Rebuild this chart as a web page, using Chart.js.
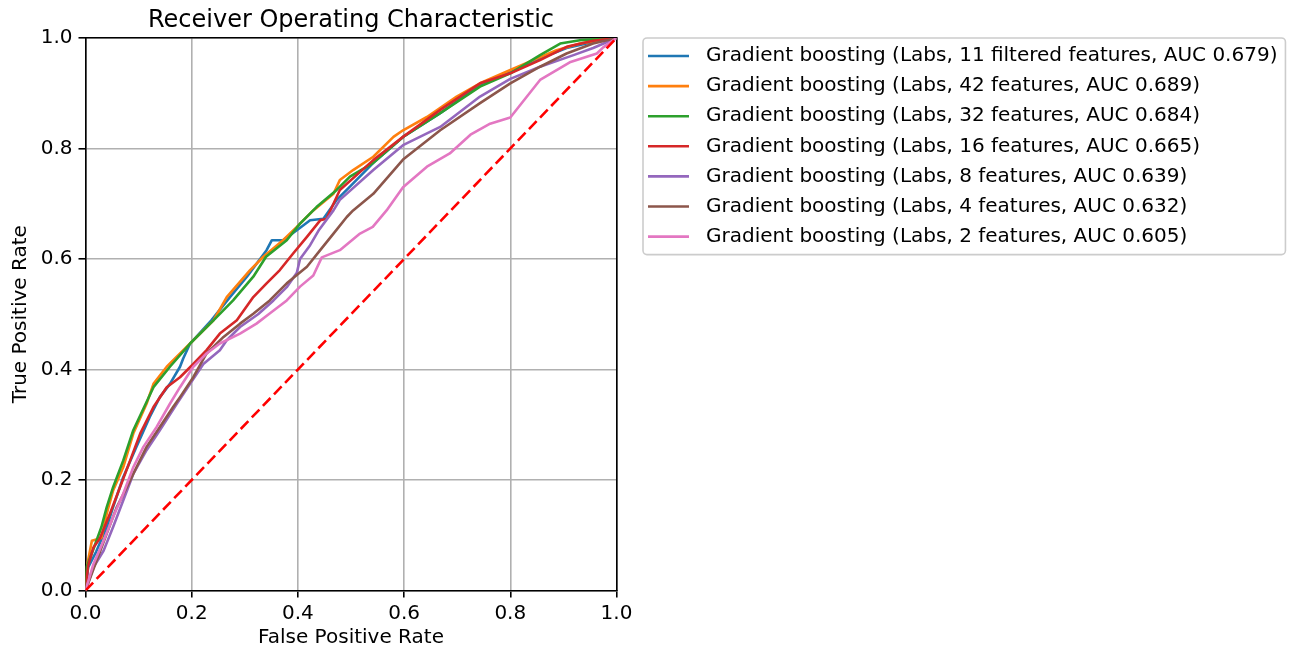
<!DOCTYPE html>
<html><head><meta charset="utf-8">
<script src="https://cdn.jsdelivr.net/npm/chart.js@4.4.0/dist/chart.umd.min.js"></script>
<style>html,body{margin:0;padding:0;background:#fff;}</style>
</head><body>
<canvas id="c" width="1294" height="653"></canvas>
<script>
const chartTitle = 'Receiver Operating Characteristic';
const xTitle = 'False Positive Rate';
const yTitle = 'True Positive Rate';
const tickLabels = ['0.0', '0.2', '0.4', '0.6', '0.8', '1.0'];
const seriesNames = [
  'Gradient boosting (Labs, 11 filtered features, AUC 0.679)',
  'Gradient boosting (Labs, 42 features, AUC 0.689)',
  'Gradient boosting (Labs, 32 features, AUC 0.684)',
  'Gradient boosting (Labs, 16 features, AUC 0.665)',
  'Gradient boosting (Labs, 8 features, AUC 0.639)',
  'Gradient boosting (Labs, 4 features, AUC 0.632)',
  'Gradient boosting (Labs, 2 features, AUC 0.605)'
];
const seriesColors = ['#1f77b4', '#ff7f0e', '#2ca02c', '#d62728', '#9467bd', '#8c564b', '#e377c2'];

const blueFpr = [0,0.005,0.02,0.04,0.052,0.071,0.096,0.121,0.14,0.159,0.178,0.184,0.197,0.237,0.272,0.304,0.341,0.351,0.372,0.398,0.423,0.448,0.473,0.498,0.542,0.598,0.668,0.743,0.8,0.856,0.906,0.956,1];
const blueTpr = [0,0.042,0.07,0.115,0.151,0.205,0.26,0.314,0.35,0.374,0.405,0.42,0.447,0.489,0.531,0.568,0.616,0.634,0.634,0.652,0.67,0.673,0.707,0.731,0.774,0.821,0.864,0.915,0.94,0.963,0.982,0.993,1];

const orangeFpr = [0,0.003,0.012,0.03,0.04,0.052,0.071,0.09,0.115,0.128,0.153,0.197,0.241,0.266,0.31,0.335,0.372,0.398,0.429,0.467,0.479,0.504,0.542,0.58,0.598,0.643,0.699,0.743,0.8,0.843,0.887,0.931,0.969,1];
const orangeTpr = [0,0.045,0.09,0.095,0.139,0.181,0.223,0.284,0.338,0.374,0.405,0.447,0.489,0.531,0.58,0.604,0.634,0.658,0.688,0.718,0.743,0.761,0.785,0.821,0.833,0.857,0.894,0.918,0.942,0.96,0.978,0.99,0.996,1];

const greenFpr = [0,0.002,0.015,0.03,0.04,0.052,0.071,0.09,0.128,0.159,0.197,0.241,0.278,0.316,0.34,0.379,0.404,0.435,0.473,0.498,0.542,0.598,0.668,0.743,0.8,0.856,0.894,0.931,1];
const greenTpr = [0,0.042,0.075,0.115,0.151,0.187,0.235,0.29,0.368,0.405,0.447,0.489,0.525,0.568,0.604,0.634,0.664,0.694,0.725,0.749,0.774,0.821,0.864,0.912,0.936,0.969,0.99,0.996,1];

const redFpr = [0,0.005,0.015,0.027,0.046,0.065,0.084,0.103,0.128,0.153,0.178,0.203,0.228,0.253,0.285,0.316,0.341,0.366,0.391,0.417,0.442,0.454,0.467,0.479,0.542,0.598,0.668,0.743,0.8,0.856,0.906,0.956,1];
const redTpr = [0,0.045,0.078,0.094,0.139,0.187,0.235,0.284,0.332,0.368,0.386,0.41,0.435,0.465,0.489,0.531,0.556,0.58,0.61,0.64,0.67,0.673,0.7,0.725,0.779,0.821,0.87,0.918,0.936,0.96,0.984,0.995,1];

const purpleFpr = [0,0.015,0.034,0.052,0.071,0.09,0.115,0.14,0.172,0.197,0.222,0.253,0.266,0.291,0.325,0.354,0.379,0.398,0.404,0.423,0.44,0.467,0.479,0.542,0.598,0.668,0.743,0.8,0.856,0.919,0.956,1];
const purpleTpr = [0,0.042,0.072,0.115,0.163,0.211,0.254,0.29,0.338,0.374,0.41,0.435,0.453,0.477,0.5,0.525,0.549,0.575,0.6,0.625,0.653,0.688,0.707,0.761,0.806,0.839,0.894,0.926,0.948,0.969,0.982,1];

const brownFpr = [0,0.021,0.04,0.059,0.078,0.096,0.115,0.14,0.165,0.178,0.203,0.228,0.26,0.291,0.316,0.347,0.379,0.417,0.442,0.467,0.492,0.504,0.542,0.598,0.668,0.743,0.8,0.856,0.906,0.956,1];
const brownTpr = [0,0.054,0.103,0.151,0.187,0.223,0.26,0.296,0.332,0.35,0.386,0.429,0.459,0.483,0.501,0.525,0.556,0.586,0.616,0.646,0.676,0.688,0.718,0.78,0.833,0.882,0.918,0.948,0.972,0.99,1];

const pinkFpr = [0,0.015,0.034,0.052,0.071,0.09,0.109,0.134,0.159,0.178,0.203,0.228,0.253,0.291,0.322,0.345,0.379,0.404,0.429,0.445,0.479,0.517,0.541,0.567,0.598,0.643,0.686,0.725,0.762,0.8,0.856,0.912,0.963,0.975,1];
const pinkTpr = [0,0.048,0.09,0.133,0.175,0.223,0.26,0.296,0.338,0.368,0.405,0.429,0.447,0.465,0.483,0.5,0.525,0.55,0.57,0.603,0.616,0.646,0.658,0.688,0.73,0.767,0.791,0.825,0.845,0.856,0.924,0.956,0.972,0.983,1];

const chanceFpr = [0, 1];
const chanceTpr = [0, 1];

const toPts = (xs, ys) => xs.map((x, i) => ({x: x, y: ys[i]}));
const seriesFpr = [blueFpr, orangeFpr, greenFpr, redFpr, purpleFpr, brownFpr, pinkFpr];
const seriesTpr = [blueTpr, orangeTpr, greenTpr, redTpr, purpleTpr, brownTpr, pinkTpr];

Chart.defaults.font.family = 'DejaVu Sans';
Chart.defaults.color = '#000';

const curveSets = seriesNames.map((name, i) => ({
  label: name,
  data: toPts(seriesFpr[i], seriesTpr[i]),
  borderColor: seriesColors[i],
  backgroundColor: seriesColors[i],
  borderWidth: 2.6,
  pointRadius: 0,
  tension: 0,
  fill: false,
  borderJoinStyle: 'round',
  inLegend: true,
  legendRank: i,
  xAxisID: 'x',
  yAxisID: 'y'
}));
const chanceSet = {
  label: 'Chance',
  data: toPts(chanceFpr, chanceTpr),
  borderColor: '#ff0000',
  backgroundColor: '#ff0000',
  borderWidth: 2.6,
  borderDash: [11, 5],
  pointRadius: 0,
  fill: false,
  inLegend: false,
  xAxisID: 'x',
  yAxisID: 'y'
};
// index 0 is drawn on top in Chart.js, so reverse (matplotlib draws later lines on top)
const datasets = [chanceSet].concat(curveSets.slice().reverse());

// matplotlib-style framed legend drawn to the right of the plot area
const mplLegend = {
  id: 'mplLegend',
  afterDraw(chart) {
    const ctx = chart.ctx;
    const area = chart.chartArea;
    const items = chart.data.datasets.filter(d => d.inLegend).sort((a, b) => a.legendRank - b.legendRank);
    const fontSize = 20, pitch = 30.1;
    const x0 = area.right + 26.5;
    const y0 = area.top;
    ctx.save();
    ctx.font = fontSize + 'px "DejaVu Sans"';
    let maxW = 0;
    items.forEach(d => { maxW = Math.max(maxW, ctx.measureText(d.label).width); });
    const textX = x0 + 63;
    const x1 = textX + maxW + 8;
    const y1 = y0 + 18 + pitch * (items.length - 1) + 18;
    ctx.fillStyle = 'rgba(255,255,255,0.8)';
    ctx.strokeStyle = '#cccccc';
    ctx.lineWidth = 1.6;
    ctx.beginPath();
    ctx.roundRect(x0, y0, x1 - x0, y1 - y0, 4);
    ctx.fill();
    ctx.stroke();
    items.forEach((d, i) => {
      const cy = y0 + 18 + pitch * i;
      ctx.strokeStyle = d.borderColor;
      ctx.lineWidth = d.borderWidth;
      ctx.setLineDash([]);
      ctx.beginPath();
      ctx.moveTo(x0 + 5, cy);
      ctx.lineTo(x0 + 46, cy);
      ctx.stroke();
      ctx.fillStyle = '#000';
      ctx.textBaseline = 'middle';
      ctx.textAlign = 'left';
      ctx.fillText(d.label, textX, cy);
    });
    ctx.restore();
  }
};

const axisBorder = {display: true, color: '#000', width: 1.6};

new Chart(document.getElementById('c'), {
  type: 'line',
  data: {datasets: datasets},
  plugins: [mplLegend],
  options: {
    responsive: false,
    animation: false,
    layout: {padding: {left: 0, right: 677.5, top: 0, bottom: 0}},
    scales: {
      x: {
        type: 'linear', position: 'bottom', min: 0, max: 1,
        ticks: {stepSize: 0.2, autoSkip: false, maxRotation: 0, padding: 4,
                font: {size: 20}, callback: (v, i) => tickLabels[i]},
        grid: {color: '#b0b0b0', lineWidth: 1.6, tickColor: '#000', tickLength: 7, tickWidth: 1.6},
        border: axisBorder,
        title: {display: true, text: xTitle, font: {size: 20}, padding: {top: 0, bottom: 3}},
        afterFit: (s) => { s.height = 62.5; }
      },
      y: {
        type: 'linear', position: 'left', min: 0, max: 1,
        ticks: {stepSize: 0.2, autoSkip: false, padding: 6,
                font: {size: 20}, callback: (v, i) => tickLabels[i]},
        grid: {color: '#b0b0b0', lineWidth: 1.6, tickColor: '#000', tickLength: 7, tickWidth: 1.6},
        border: axisBorder,
        title: {display: true, text: yTitle, font: {size: 20}, padding: {top: 9, bottom: 0}},
        afterFit: (s) => { s.width = 85.5; }
      },
      xT: {
        type: 'linear', position: 'top', min: 0, max: 1,
        ticks: {display: false}, grid: {display: false, drawTicks: false},
        border: axisBorder,
        afterFit: (s) => { s.height = 0; }
      },
      yR: {
        type: 'linear', position: 'right', min: 0, max: 1,
        ticks: {display: false}, grid: {display: false, drawTicks: false},
        border: axisBorder,
        afterFit: (s) => { s.width = 0; }
      }
    },
    plugins: {
      title: {
        display: true, text: chartTitle, fullSize: false,
        font: {size: 24, weight: 'normal'}, color: '#000',
        padding: {top: 6, bottom: 3.2}
      },
      legend: {display: false},
      tooltip: {enabled: false}
    }
  }
});
</script>
</body></html>
